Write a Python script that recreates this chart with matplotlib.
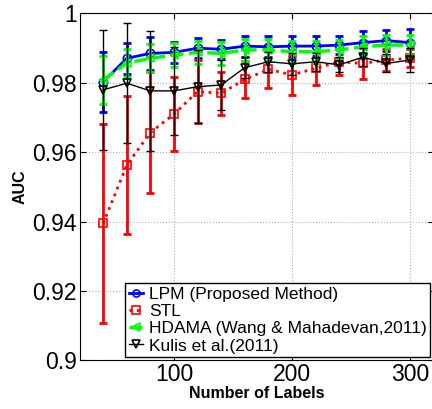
import matplotlib
matplotlib.use("Agg")
import matplotlib.pyplot as plt
from matplotlib.ticker import FormatStrFormatter

plt.rcParams['font.family'] = ['Liberation Sans', 'DejaVu Sans']

# number of labelled samples
n_labels = [40, 60, 80, 100, 120, 140, 160, 180, 200, 220, 240, 260, 280, 300]

# mean AUC and std for each method
lpm = [0.9803, 0.9871, 0.9885, 0.9888, 0.9900, 0.9897, 0.9906, 0.9904, 0.9906, 0.9906, 0.9909, 0.9916, 0.9922, 0.9916]
lpm_std = [0.0086, 0.0044, 0.0047, 0.0031, 0.0028, 0.0028, 0.0030, 0.0030, 0.0030, 0.0029, 0.0026, 0.0034, 0.0029, 0.0038]

stl = [0.9395, 0.9563, 0.9657, 0.9710, 0.9775, 0.9770, 0.9810, 0.9839, 0.9823, 0.9842, 0.9861, 0.9856, 0.9866, 0.9871]
stl_std = [0.0287, 0.0199, 0.0173, 0.0106, 0.0091, 0.0062, 0.0053, 0.0054, 0.0058, 0.0048, 0.0038, 0.0046, 0.0031, 0.0026]

hdama = [0.9808, 0.9857, 0.9871, 0.9880, 0.9888, 0.9885, 0.9895, 0.9895, 0.9890, 0.9890, 0.9895, 0.9904, 0.9909, 0.9909]
hdama_std = [0.0070, 0.0040, 0.0040, 0.0035, 0.0033, 0.0033, 0.0032, 0.0032, 0.0032, 0.0032, 0.0030, 0.0030, 0.0030, 0.0030]

kulis = [0.9780, 0.9799, 0.9777, 0.9777, 0.9789, 0.9794, 0.9844, 0.9861, 0.9855, 0.9861, 0.9852, 0.9874, 0.9856, 0.9866]
kulis_std = [0.0173, 0.0173, 0.0173, 0.0126, 0.0106, 0.0073, 0.0031, 0.0029, 0.0031, 0.0026, 0.0022, 0.0026, 0.0026, 0.0034]

fig = plt.figure(figsize=(4.32, 4.09), dpi=100)
ax = fig.add_axes([0.1843, 0.1186, 0.8194, 0.8484])

series = [
    (lpm, lpm_std, 'LPM (Proposed Method)', (0, 0, 1), '-', 'o', 2.0, 2.0),
    (stl, stl_std, 'STL', (1, 0, 0), ':', 's', 2.0, 2.0),
    (hdama, hdama_std, 'HDAMA (Wang & Mahadevan,2011)', (0, 1, 0), '--', '<', 2.5, 2.0),
    (kulis, kulis_std, 'Kulis et al.(2011)', 'k', '-', 'v', 1.0, 1.0),
]

for vals, err, name, col, ls, mk, lw, elw in series:
    ax.errorbar(n_labels, vals, yerr=err, fmt='none', ecolor=col,
                elinewidth=elw, capsize=3, capthick=elw)
    ax.plot(n_labels, vals, color=col, linestyle=ls, linewidth=lw,
            marker=mk, markersize=6, markerfacecolor='none',
            markeredgecolor=col, markeredgewidth=1.2, label=name)

ax.set_xlim(20, 320)
ax.set_ylim(0.9, 1.0)
ax.set_xticks([100, 200, 300])
ax.set_yticks([0.9, 0.92, 0.94, 0.96, 0.98, 1.0])
ax.yaxis.set_major_formatter(FormatStrFormatter('%g'))
ax.tick_params(direction='in', top=True, right=True, labelsize=16.5, length=4, pad=2)
ax.grid(True, color='#b0b0b0', linestyle=':', linewidth=0.8)

ax.set_xlabel('Number of Labels', fontsize=11.5, fontweight='bold', labelpad=0)
ax.set_ylabel('AUC', fontsize=11.5, fontweight='bold', labelpad=3)

leg = ax.legend(loc='lower right', bbox_to_anchor=(0.99, 0.01), fontsize=12.5,
                frameon=True, fancybox=False, edgecolor='k', framealpha=1,
                handlelength=0.8, handletextpad=0.35, labelspacing=0.12,
                borderpad=0.2, borderaxespad=0, markerscale=0.85)
leg.get_frame().set_linewidth(1.0)

fig.savefig('out.png', dpi=100)
